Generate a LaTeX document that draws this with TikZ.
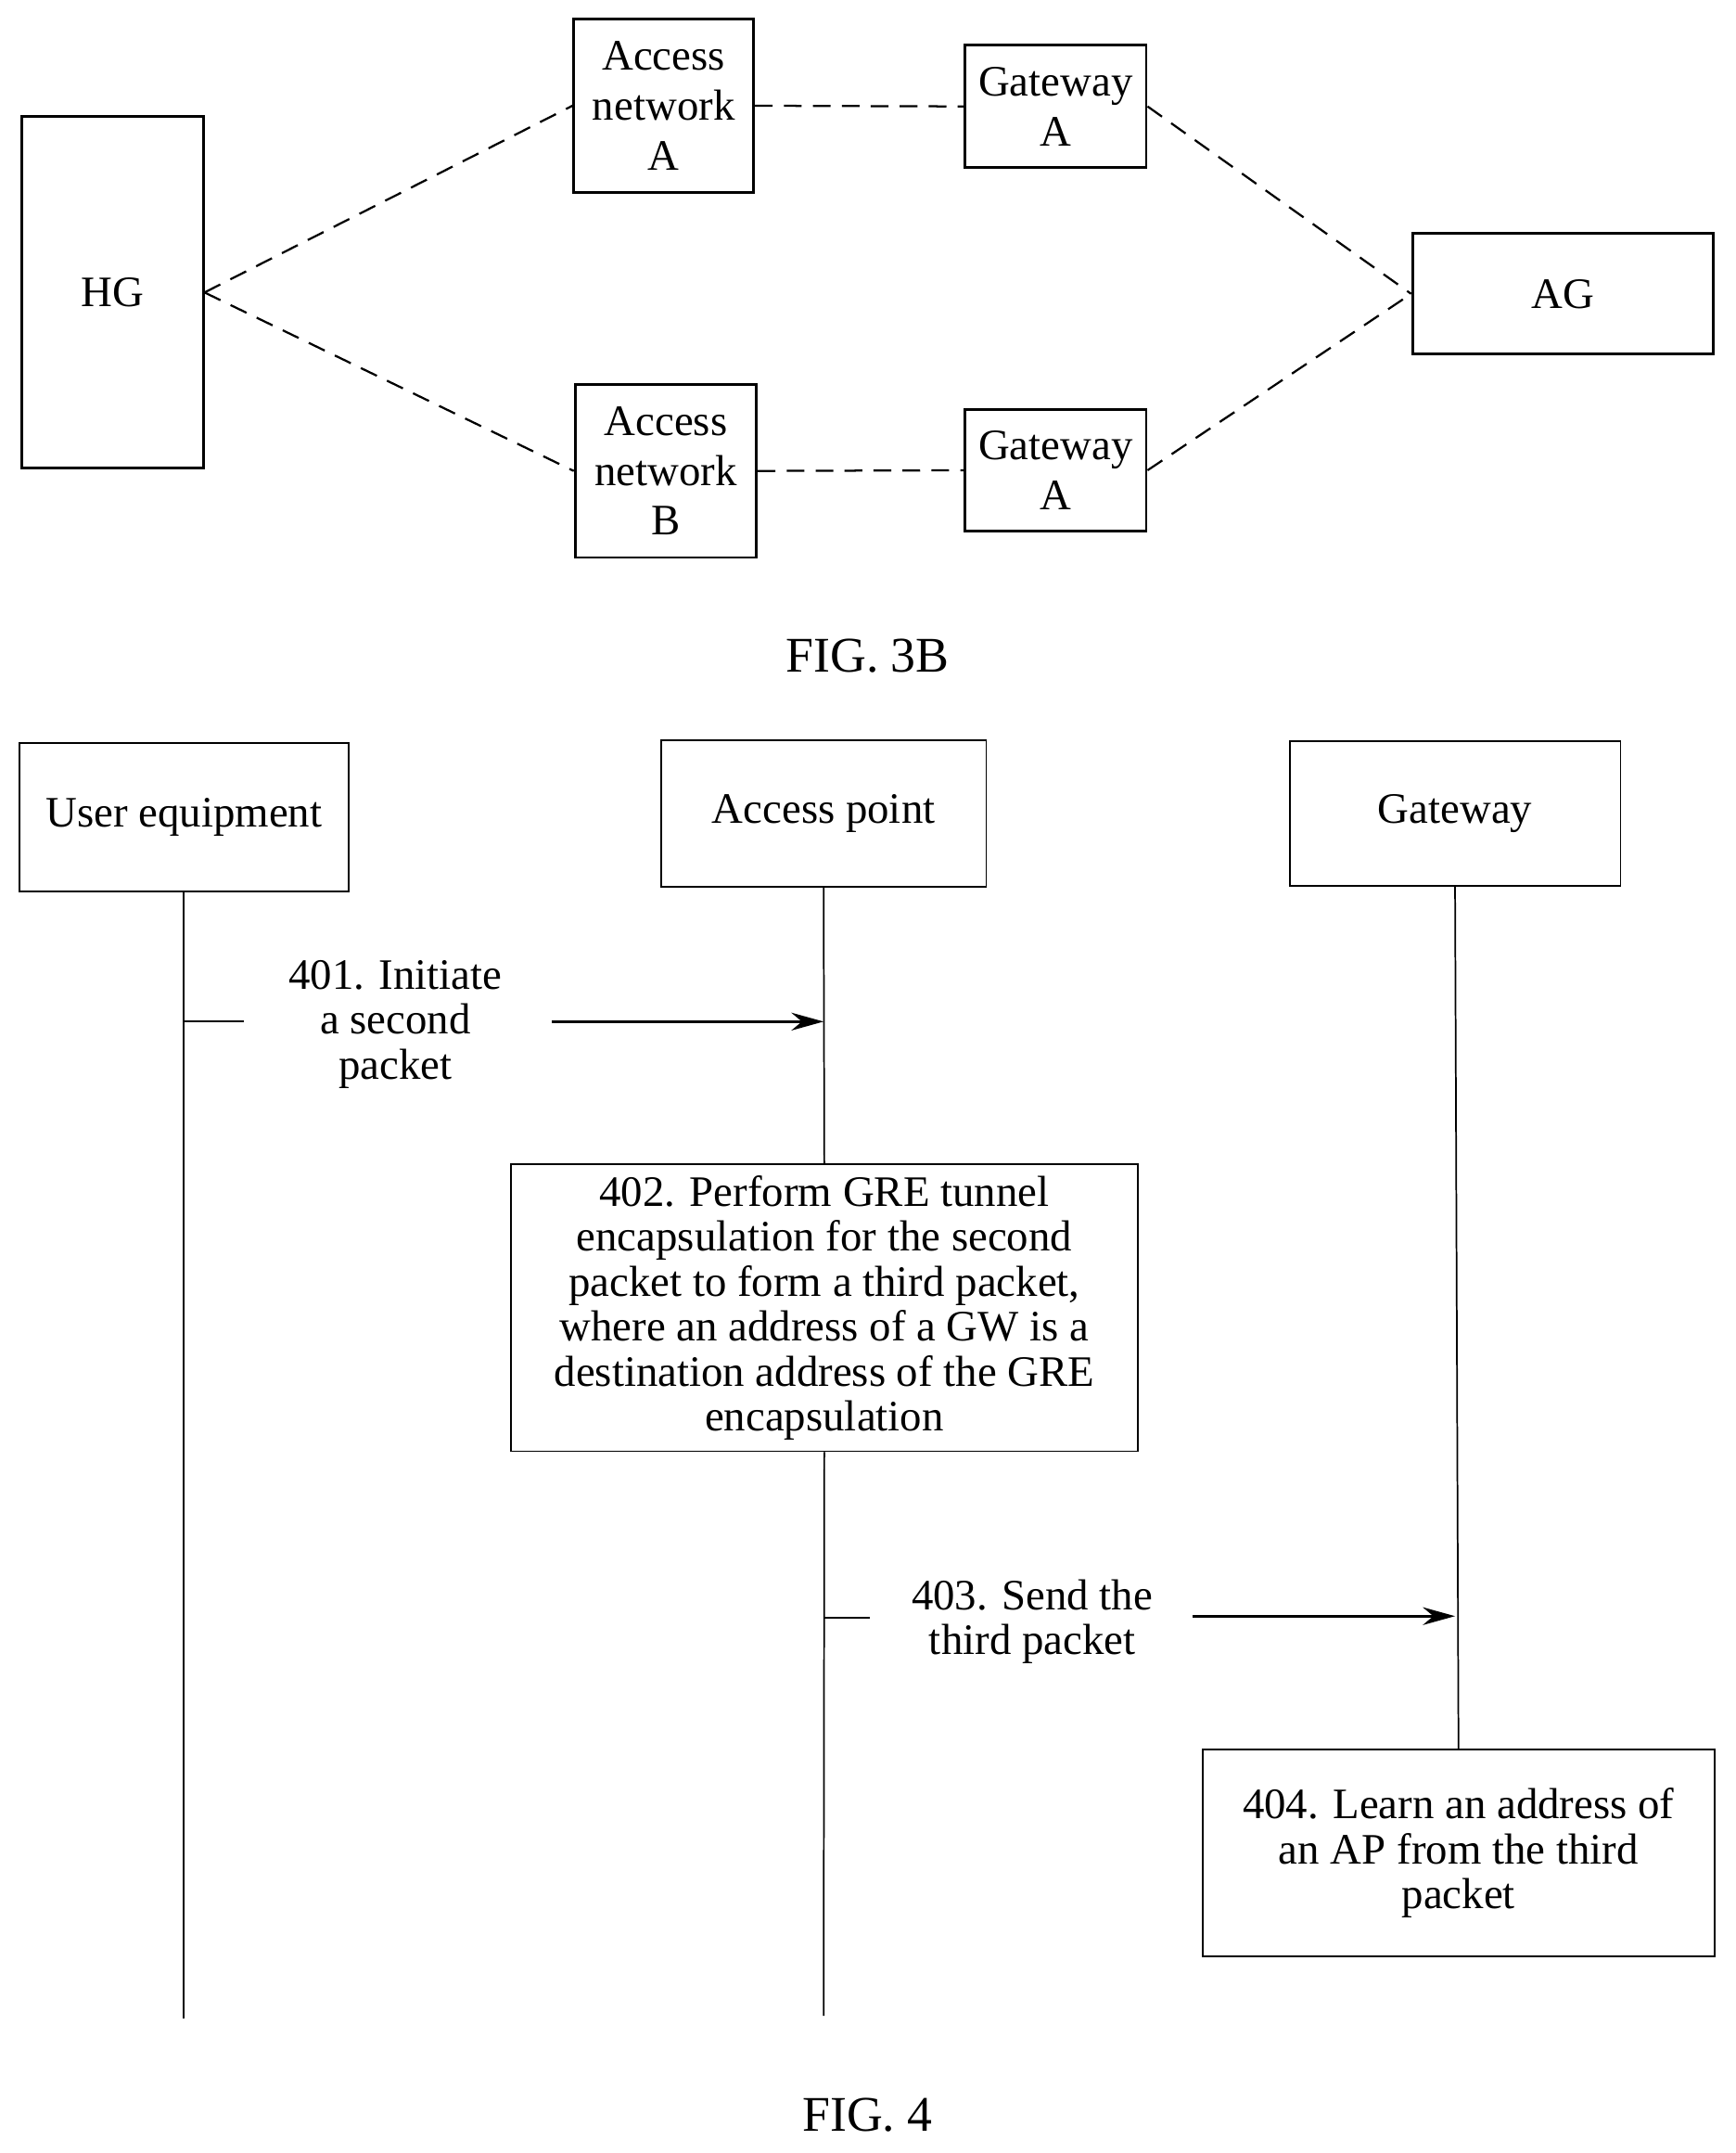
\documentclass[tikz,border=0pt]{standalone}
\usepackage{fontspec}
\setmainfont{Liberation Serif}
\usetikzlibrary{arrows.meta}
\begin{document}
\begin{tikzpicture}[x=0.03cm,y=-0.03cm,
    every node/.style={font=\fontsize{27}{33}\selectfont, align=center},
    box/.style={draw, line width=1.7pt, inner sep=0pt},
    link/.style={line width=1.3pt, dash pattern=on 11pt off 7pt},
    life/.style={line width=1pt},
    msg/.style={line width=2pt, -{Stealth[length=20pt,width=11pt]}}]
\useasboundingbox (0,0) rectangle (1264,1568);
% FIG. 3B
\node[box, minimum width=132*0.03cm, minimum height=256*0.03cm] (HG) at (82,213) {HG};
\node[box, minimum width=131*0.03cm, minimum height=126*0.03cm] (AccA) at (483.5,77) {Access\\[-2pt]network\\[-2pt]A};
\node[box, minimum width=132*0.03cm, minimum height=89*0.03cm] (GwA) at (769,77.5) {Gateway\\[-2pt]A};
\node[box, minimum width=219*0.03cm, minimum height=88*0.03cm] (AG) at (1138.5,214) {AG};
\node[box, minimum width=132*0.03cm, minimum height=126*0.03cm] (AccB) at (485,343) {Access\\[-2pt]network\\[-2pt]B};
\node[box, minimum width=132*0.03cm, minimum height=89*0.03cm] (GwB) at (769,342.5) {Gateway\\[-2pt]A};
\draw[link] (HG.east) -- (AccA.west);
\draw[link] (HG.east) -- (AccB.west);
\draw[link] (AccA.east) -- (GwA.west);
\draw[link] (AccB.east) -- (GwB.west);
\draw[link] (GwA.east) -- (AG.west);
\draw[link] (GwB.east) -- (AG.west);
\node[font=\fontsize{31}{36}\selectfont] (fig3b) at (632,478) {FIG. 3B};
% FIG. 4
\node[draw, life, minimum width=240*0.03cm, minimum height=108*0.03cm] (UE) at (134,595) {User equipment};
\node[draw, life, minimum width=237*0.03cm, minimum height=107*0.03cm] (AP) at (600,592.5) {Access point};
\node[draw, life, minimum width=241*0.03cm, minimum height=105*0.03cm] (GW) at (1060,592.5) {Gateway};
\node[draw, life, minimum width=457*0.03cm, minimum height=209*0.03cm] (s402) at (600.5,952.5) {402. Perform GRE tunnel\\[-5pt]encapsulation for the second\\[-5pt]packet to form a third packet,\\[-5pt]where an address of a GW is a\\[-5pt]destination address of the GRE\\[-5pt]encapsulation};
\node[draw, life, minimum width=373*0.03cm, minimum height=151*0.03cm] (s404) at (1062.5,1349.5) {404. Learn an address of\\[-5pt]an AP from the third\\[-5pt]packet};
\coordinate (ueEnd) at (134,1470);
\coordinate (apEnd) at (600,1468);
\draw[life] (UE.south) -- (ueEnd);
\draw[life] (AP.south) -- (s402.north);
\draw[life] (s402.south) -- (apEnd);
\draw[life] (GW.south) -- (s404.north);
\coordinate (t401) at (134,744);
\coordinate (t403) at (600,1178);
\node (l401) at (288,746) {401. Initiate\\[-5pt]a second\\[-5pt]packet};
\node (l403) at (752,1181) {403. Send the\\[-5pt]third packet};
\coordinate (a401) at (402,744);
\coordinate (a403) at (869,1177);
\draw[life] (t401) -- ++(44,0);
\draw[life] (t403) -- ++(34,0);
\draw[msg] (a401) -- (AP.south |- a401);
\draw[msg] (a403) -- (GW.south |- a403);
\node[font=\fontsize{31}{36}\selectfont] (fig4) at (632,1540) {FIG. 4};
\end{tikzpicture}
\end{document}
